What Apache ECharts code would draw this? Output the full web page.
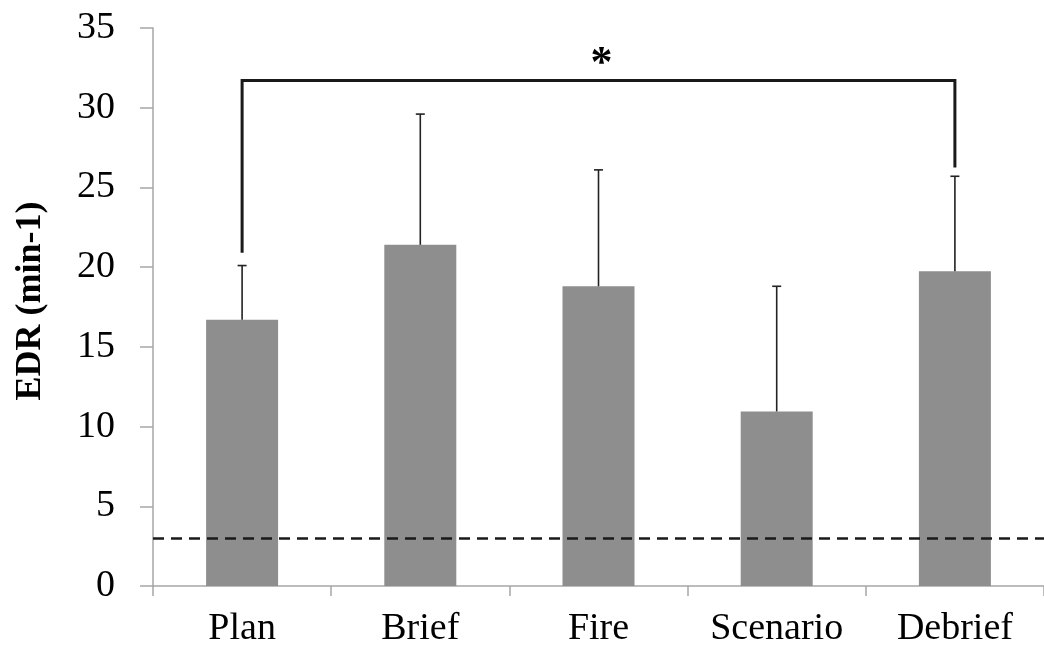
<!DOCTYPE html>
<html>
<head>
<meta charset="utf-8">
<script src="https://cdn.jsdelivr.net/npm/echarts@6/dist/echarts.min.js"></script>
<style>html,body{margin:0;padding:0;background:#fff}#c{width:1044px;height:648px}</style>
</head>
<body>
<div id="c"></div>
<script>
var categories = ['Plan', 'Brief', 'Fire', 'Scenario', 'Debrief'];
var means = [16.7, 21.4, 18.8, 10.95, 19.75];
var upperErr = [20.1, 29.6, 26.1, 18.8, 25.7];
var yTicks = [0, 5, 10, 15, 20, 25, 30, 35];
var threshold = 3;
// bracket: [fromIndex, toIndex, topValue, leftBottom, rightBottom]
var bracket = [[0, 4, 31.7, 20.9, 26.25]];
var sigLabel = '*';

var chart = echarts.init(document.getElementById('c'));
var serif = '"Liberation Serif", "Times New Roman", serif';
chart.setOption({
  animation: false,
  grid: { left: 153, top: 28, width: 900, height: 560 },
  xAxis: {
    type: 'category',
    data: categories,
    axisLine: { lineStyle: { color: '#a6a6a6', width: 1.5 } },
    axisTick: { show: true, length: 10, lineStyle: { color: '#a6a6a6', width: 1.5 } },
    axisLabel: { fontFamily: serif, fontSize: 38, color: '#000', margin: 24 }
  },
  yAxis: {
    type: 'value',
    min: yTicks[0], max: yTicks[yTicks.length - 1], interval: 5,
    name: 'EDR (min-1)',
    nameLocation: 'middle',
    nameGap: 104,
    nameTextStyle: { fontFamily: serif, fontSize: 36, fontWeight: 'bold', color: '#000', padding: [0, 0, 0, 12] },
    splitLine: { show: false },
    axisLine: { show: true, lineStyle: { color: '#a6a6a6', width: 1.5 } },
    axisTick: { show: true, length: 13, lineStyle: { color: '#a6a6a6', width: 1.5 } },
    axisLabel: { fontFamily: serif, fontSize: 38, color: '#000', margin: 38 }
  },
  series: [
    {
      type: 'bar',
      data: means,
      barWidth: 72,
      itemStyle: { color: '#8e8e8e' },
      markLine: {
        silent: true, symbol: 'none', label: { show: false },
        lineStyle: { color: '#1a1a1a', type: [11, 7], width: 2.5 },
        data: [{ yAxis: threshold }]
      },
      z: 2
    },
    {
      type: 'custom',
      data: means.map(function (m, i) { return [i, m, upperErr[i]]; }),
      renderItem: function (params, api) {
        var p0 = api.coord([api.value(0), api.value(1)]);
        var p1 = api.coord([api.value(0), api.value(2)]);
        var st = { stroke: '#222', lineWidth: 1.6 };
        return { type: 'group', children: [
          { type: 'line', shape: { x1: p0[0], y1: p0[1], x2: p1[0], y2: p1[1] }, style: st },
          { type: 'line', shape: { x1: p1[0] - 4.5, y1: p1[1], x2: p1[0] + 4.5, y2: p1[1] }, style: st }
        ]};
      },
      z: 3
    },
    {
      type: 'custom',
      data: bracket,
      renderItem: function (params, api) {
        var a = api.coord([api.value(0), api.value(3)]);
        var b = api.coord([api.value(1), api.value(4)]);
        var tl = api.coord([api.value(0), api.value(2)]);
        var tr = api.coord([api.value(1), api.value(2)]);
        return { type: 'group', children: [
          { type: 'polyline', shape: { points: [[a[0], a[1]], [tl[0], tl[1]], [tr[0], tr[1]], [b[0], b[1]]] },
            style: { stroke: '#1a1a1a', lineWidth: 3, fill: null } },
          { type: 'text', style: { x: (tl[0] + tr[0]) / 2 + 3, y: tl[1] + 6, text: sigLabel,
            font: 'bold 44px ' + serif, fill: '#000', textAlign: 'center', textVerticalAlign: 'bottom' } }
        ]};
      },
      z: 4
    }
  ]
});
</script>
</body>
</html>
